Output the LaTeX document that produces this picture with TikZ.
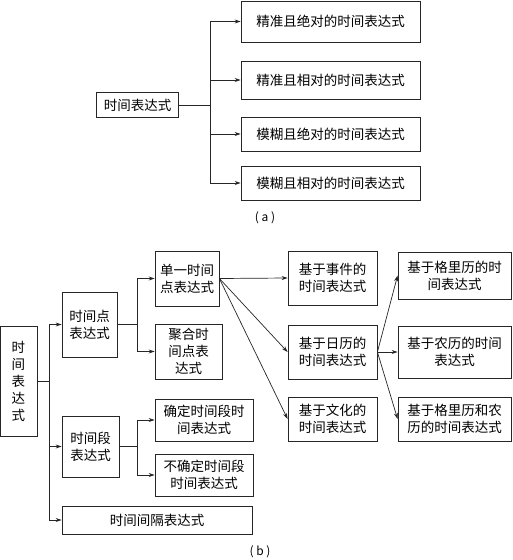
\documentclass[tikz,border=0pt]{standalone}
\usepackage{fontspec}
\newfontfamily\cjk{Noto Sans CJK SC}
\usetikzlibrary{arrows.meta,positioning}

\begin{document}
\begin{tikzpicture}[
    x=1pt, y=-1pt,
    box/.style={rectangle, draw=black!85, line width=0.8pt, inner sep=0pt, align=center,
        font=\cjk\fontsize{13.5}{17}\selectfont},
    arrow/.style={-{Stealth[length=6pt,width=4pt]}, draw=black!85, line width=0.7pt},
    line/.style={draw=black!85, line width=0.7pt},
    caption/.style={font=\cjk\fontsize{12}{14}\selectfont}
]
    \useasboundingbox (0,0) rectangle (512,560);

    % (a)
    \node[box, minimum width=82pt, minimum height=25pt] (roota) at (137.5,105) {时间表达式};
    \node[box, minimum width=179pt, minimum height=41pt] (exabs) at (330.5,21.5) {精准且绝对的时间表达式};
    \node[box, minimum width=179pt, minimum height=38pt] (exrel) at (330.5,80) {精准且相对的时间表达式};
    \node[box, minimum width=179pt, minimum height=34pt] (fzabs) at (330.5,134) {模糊且绝对的时间表达式};
    \node[box, minimum width=179pt, minimum height=34pt] (fzrel) at (330.5,183) {模糊且相对的时间表达式};
    \node[caption] (capa) at (265,218) {( a )};

    \draw[line] (roota.east) -- (210,105) coordinate (ja);
    \foreach \t in {exabs,exrel,fzabs,fzrel}
        \draw[arrow] (ja) |- (\t.west);

    % (b)
    \node[box, minimum width=37pt, minimum height=110pt] (rootb) at (18.5,381) {时\\间\\表\\达\\式};
    \node[box, minimum width=55pt, minimum height=65pt] (point) at (89.5,324.5) {时间点\\表达式};
    \node[box, minimum width=57pt, minimum height=61pt] (period) at (90.5,446.5) {时间段\\表达式};
    \node[box, minimum width=190pt, minimum height=28pt] (interval) at (157,520) {时间间隔表达式};

    \node[box, minimum width=64pt, minimum height=55pt] (single) at (187,278.5) {单一时间\\点表达式};
    \node[box, minimum width=67pt, minimum height=55pt] (agg) at (188.5,351.5) {聚合时\\间点表\\达式};
    \node[box, minimum width=98pt, minimum height=42pt] (sure) at (204,420) {确定时间段时\\间表达式};
    \node[box, minimum width=98pt, minimum height=42pt] (unsure) at (204,475) {不确定时间段\\时间表达式};

    \node[box, minimum width=89pt, minimum height=54pt] (event) at (332.5,278) {基于事件的\\时间表达式};
    \node[box, minimum width=89pt, minimum height=54pt] (calendar) at (332.5,352) {基于日历的\\时间表达式};
    \node[box, minimum width=89pt, minimum height=44pt] (culture) at (332.5,419) {基于文化的\\时间表达式};

    \node[box, minimum width=113pt, minimum height=47pt] (greg) at (454.5,275.5) {基于格里历的时\\间表达式};
    \node[box, minimum width=113pt, minimum height=52pt] (lunar) at (454.5,352) {基于农历的时间\\表达式};
    \node[box, minimum width=113pt, minimum height=44pt] (both) at (454.5,419) {基于格里历和农\\历的时间表达式};
    \node[caption] (capb) at (260,552) {( b )};

    \draw[line] (rootb.east) -- (49,381) coordinate (jb);
    \foreach \t in {point,period,interval}
        \draw[arrow] (jb) |- (\t.west);

    \draw[line] (point.east) -- (137,324.5) coordinate (jp);
    \foreach \t in {single,agg}
        \draw[arrow] (jp) |- (\t.west);

    \draw[line] (period.east) -- (137,446.5) coordinate (jd);
    \foreach \t in {sure,unsure}
        \draw[arrow] (jd) |- (\t.west);

    \foreach \t in {event,calendar,culture}
        \draw[arrow] (single.east) -- (\t.west);
    \foreach \t in {greg,lunar,both}
        \draw[arrow] (calendar.east) -- (\t.west);
\end{tikzpicture}
\end{document}
